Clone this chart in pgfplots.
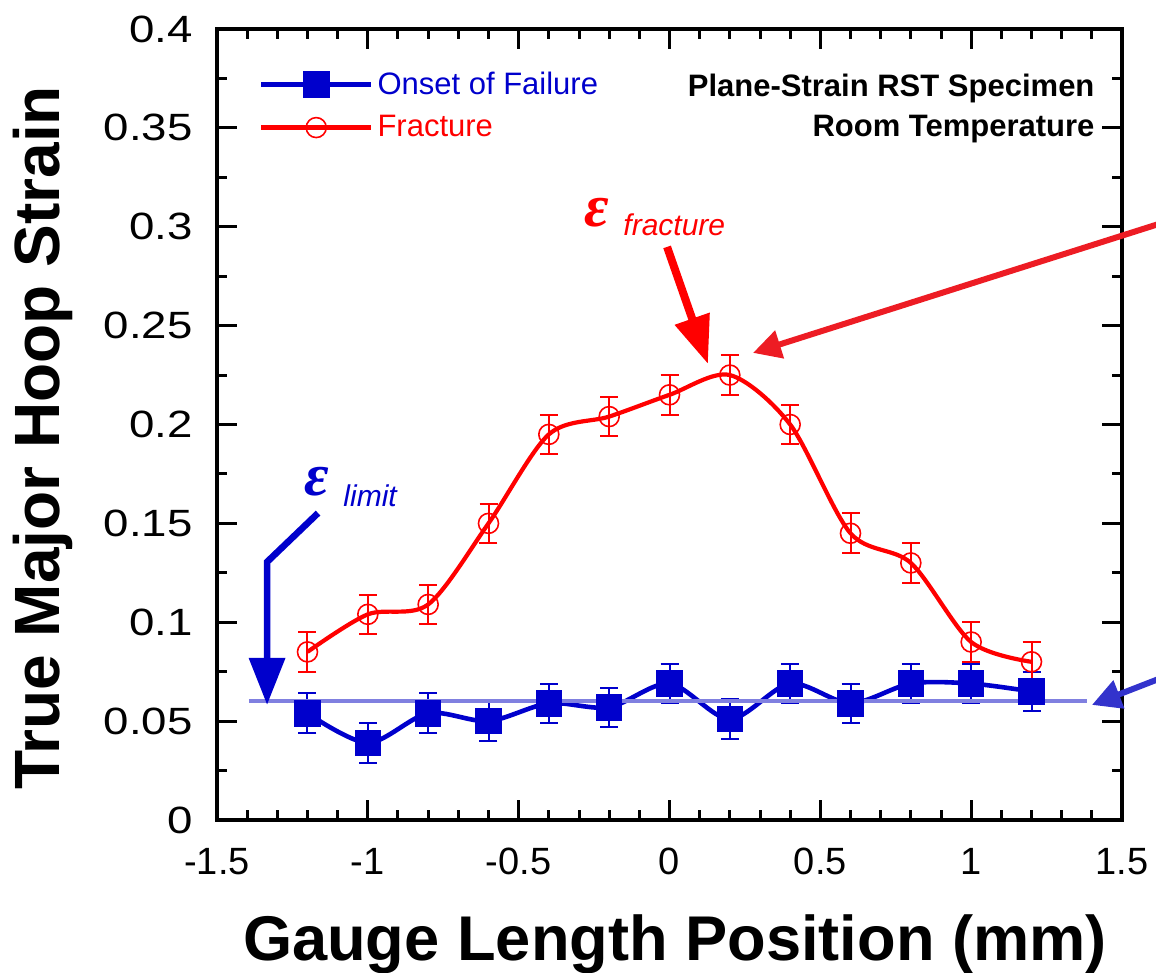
\documentclass[border=0pt]{standalone}
\usepackage{fontspec}
\setmainfont{Liberation Sans}
\newfontfamily\epsfont{Liberation Serif}
\usepackage{pgfplots}
\pgfplotsset{compat=1.18}
\usetikzlibrary{arrows.meta}
\definecolor{myblue}{RGB}{0,0,204}
\definecolor{myred}{RGB}{255,0,0}
\definecolor{arrred}{RGB}{237,28,36}
\definecolor{arrblue}{RGB}{51,51,204}
\definecolor{limline}{RGB}{128,128,224}

\begin{document}
\begin{tikzpicture}
\begin{axis}[
  at={(0pt,0pt)}, anchor=south west,
  scale only axis, width=452.5pt, height=395.5pt,
  xmin=-1.5, xmax=1.5, ymin=0, ymax=0.4,
  xtick={-1.5,-1,-0.5,0,0.5,1,1.5},
  ytick={0,0.05,0.1,0.15,0.2,0.25,0.3,0.35,0.4},
  minor x tick num=4, minor y tick num=1,
  tick align=inside,
  major tick length=10pt, minor tick length=5pt,
  every tick/.style={black, line width=1.5pt},
  axis line style={line width=2pt},
  clip=false,
  scaled x ticks=false, scaled y ticks=false,
  /pgf/number format/assume math mode=true,
  xticklabel style={font=\fontsize{19}{20}\selectfont, inner sep=0pt, yshift=-14pt, /pgf/number format/fixed},
  yticklabel style={font=\fontsize{19}{20}\selectfont, inner sep=0pt, xshift=-12pt, xscale=1.2, /pgf/number format/fixed, /pgf/number format/precision=2},
  xlabel={Gauge Length Position (mm)},
  xlabel style={font=\fontsize{31.6}{32}\selectfont\bfseries, at={(axis description cs:0.506,-0.177)}, anchor=base, inner sep=0pt},
  ylabel={True Major Hoop Strain},
  ylabel style={font=\fontsize{32}{32}\selectfont\bfseries, at={(axis description cs:-0.1735,0.483)}, anchor=base, inner sep=0pt},
  legend style={draw=none, fill=none, at={(axis cs:-1.361,0.3803)}, anchor=north west, inner sep=0pt, outer sep=0pt, font=\fontsize{15.5}{18}\selectfont, row sep=5pt},
  legend cell align=left,
  legend image code/.code={\draw[mark repeat=2,mark phase=2,#1] plot coordinates {(0pt,0pt) (27.5pt,0pt) (55pt,0pt)};},
]
\addplot[myblue, line width=2.3pt, smooth, mark=square*, mark size=5.5pt, mark options={solid},
  error bars/.cd, y dir=both, y explicit,
  error bar style={line width=1pt, myblue},
  error mark options={rotate=90, mark size=4.5pt, line width=1pt, myblue}]
  table[x=x, y=y, y error=e] {
x y e
-1.2 0.054 0.01
-1.0 0.039 0.01
-0.8 0.054 0.01
-0.6 0.050 0.01
-0.4 0.059 0.01
-0.2 0.057 0.01
0.0 0.069 0.01
0.2 0.051 0.01
0.4 0.069 0.01
0.6 0.059 0.01
0.8 0.069 0.01
1.0 0.069 0.01
1.2 0.065 0.01
};
\addlegendentry{\textcolor{myblue}{Onset of Failure}}
\addplot[myred, line width=2.1pt, smooth, mark=o, mark size=5pt, mark options={solid, line width=0.8pt},
  error bars/.cd, y dir=both, y explicit,
  error bar style={line width=1pt, myred},
  error mark options={rotate=90, mark size=4.5pt, line width=1pt, myred}]
  table[x=x, y=y, y error=e] {
x y e
-1.2 0.085 0.01
-1.0 0.104 0.01
-0.8 0.109 0.01
-0.6 0.150 0.01
-0.4 0.195 0.01
-0.2 0.204 0.01
0.0 0.215 0.01
0.2 0.225 0.01
0.4 0.200 0.01
0.6 0.145 0.01
0.8 0.130 0.01
1.0 0.090 0.01
1.2 0.080 0.01
};
\addlegendentry{\textcolor{myred}{Fracture}}
\addplot[limline, line width=2pt, forget plot] coordinates {(-1.394,0.06) (1.384,0.06)};

% annotations
\draw[myblue, line width=3.3pt, line join=miter, -{Triangle[width=17.5pt,length=23.5pt]}]
  (axis cs:-1.165,0.1552) -- (axis cs:-1.334,0.1305) -- (axis cs:-1.334,0.0582);
\draw[myred, line width=4pt, -{Triangle[width=17.5pt,length=24pt]}]
  (axis cs:-0.008,0.2898) -- (axis cs:0.1276,0.2306);
\draw[arrred, line width=3pt, -{Triangle[width=14pt,length=14pt]}]
  (axis cs:1.758,0.3080) -- (axis cs:0.2767,0.2362);
\draw[arrblue, line width=3pt, -{Triangle[width=14.5pt,length=14.5pt]}]
  (axis cs:1.758,0.0794) -- (axis cs:1.4004,0.0582);

\node[anchor=base west, inner sep=0pt, text=myblue] at (axis cs:-1.212,0.1643) {\fontsize{30}{30}\selectfont\epsfont\bfseries\itshape ε};
\node[anchor=base west, inner sep=0pt, text=myblue] at (axis cs:-1.082,0.1583) {\fontsize{15}{15}\selectfont\itshape limit};
\node[anchor=base west, inner sep=0pt, text=myred] at (axis cs:-0.284,0.2999) {\fontsize{30}{30}\selectfont\epsfont\bfseries\itshape ε};
\node[anchor=base west, inner sep=0pt, text=myred] at (axis cs:-0.154,0.2958) {\fontsize{15}{15}\selectfont\itshape fracture};

\node[anchor=north east, inner sep=0pt, align=right, font=\fontsize{15.5}{20}\selectfont\bfseries] at (axis cs:1.410,0.3772) {Plane-Strain RST Specimen\\Room Temperature};
\end{axis}
\pgfresetboundingbox
\path[use as bounding box] (-108.5pt,-76.5pt) rectangle (469.5pt,410pt);
\end{tikzpicture}
\end{document}
